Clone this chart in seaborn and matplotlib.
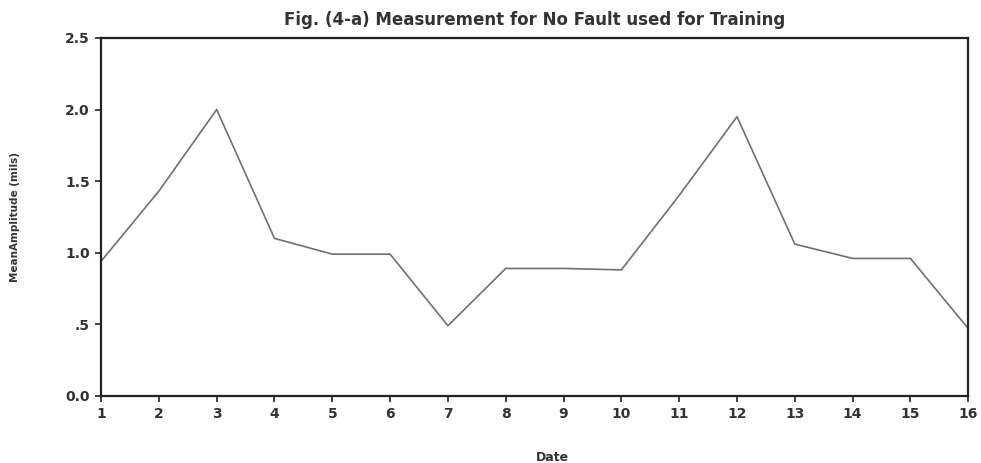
import pandas as pd
import seaborn as sns
import matplotlib.pyplot as plt

# data
dates = list(range(1, 17))
amplitude = [0.94, 1.43, 2.0, 1.10, 0.99, 0.99, 0.49, 0.89,
             0.89, 0.88, 1.40, 1.95, 1.06, 0.96, 0.96, 0.47]
y_ticks = [0.0, 0.5, 1.0, 1.5, 2.0, 2.5]
y_tick_labels = ['0.0', '.5', '1.0', '1.5', '2.0', '2.5']

df = pd.DataFrame({'Date': dates, 'MeanAmplitude': amplitude})

sns.set_style('white')
plt.rcParams['font.family'] = ['DejaVu Sans']

fig = plt.figure(figsize=(9.81, 4.63), dpi=100)
ax = fig.add_axes([0.103, 0.145, 0.884, 0.773])

sns.lineplot(data=df, x='Date', y='MeanAmplitude', color='#707070', linewidth=1.2, ax=ax)

ax.set_xlim(1, 16)
ax.set_ylim(0, 2.5)
ax.set_xticks(dates)
ax.set_xticklabels([str(d) for d in dates], fontsize=10, fontweight='bold', color='#333333')
ax.set_yticks(y_ticks)
ax.set_yticklabels(y_tick_labels, fontsize=10, fontweight='bold', color='#333333')
ax.tick_params(axis='both', direction='out', length=4, width=1.2, color='#222222', pad=4, bottom=True, left=True)

for s in ax.spines.values():
    s.set_color('#222222')
    s.set_linewidth(1.6)

ax.set_xlabel('Date', fontsize=9, fontweight='bold', color='#333333')
ax.xaxis.set_label_coords(0.52, -0.155)
ax.set_ylabel('MeanAmplitude (mils)', fontsize=7.5, fontweight='bold', color='#333333')
ax.yaxis.set_label_coords(-0.094, 0.5)
ax.set_title('Fig. (4-a) Measurement for No Fault used for Training', fontsize=12, fontweight='bold', color='#333333', pad=9)

fig.savefig('out.png', dpi=100)
